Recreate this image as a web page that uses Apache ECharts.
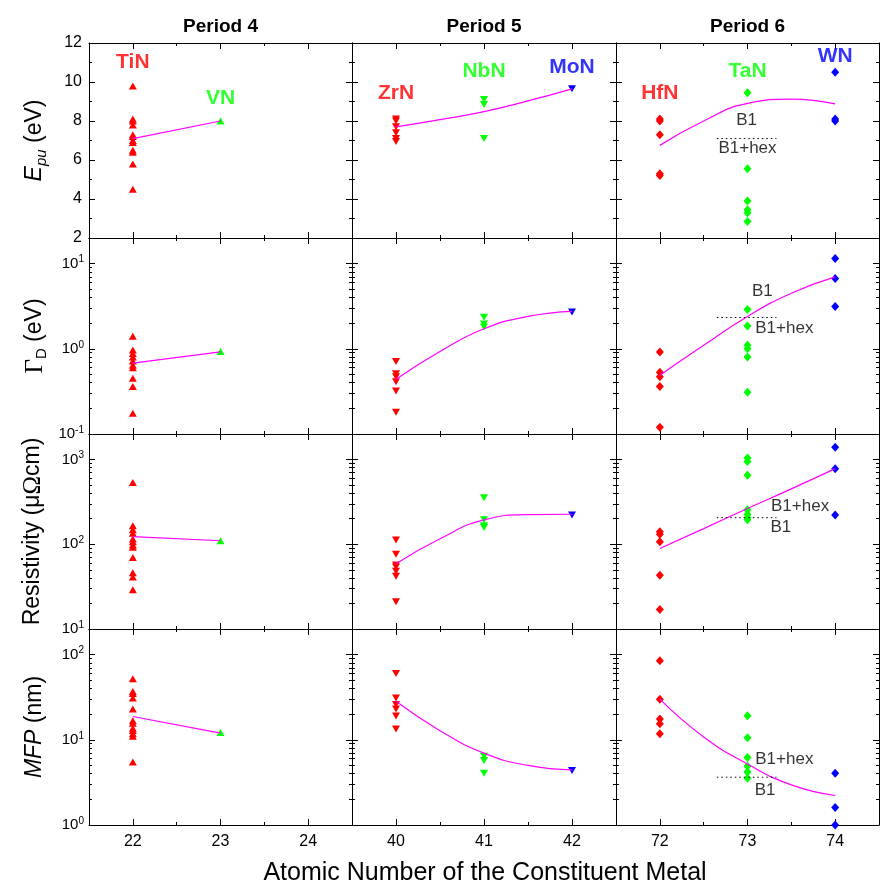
<!DOCTYPE html>
<html><head><meta charset="utf-8">
<script src="https://cdn.jsdelivr.net/npm/echarts@6/dist/echarts.min.js"></script>
<style>html,body{margin:0;padding:0;background:#fff}#c{width:885px;height:893px}</style>
</head><body><div id="c"></div>
<script>
// ---------------- data ----------------
const periodTitles = ['Period 4', 'Period 5', 'Period 6'];
const xAxisTitle = 'Atomic Number of the Constituent Metal';
const xRanges = [[21.5, 24.5], [39.5, 42.5], [71.5, 74.5]];
const xMajorTicks = [[22, 23, 24], [40, 41, 42], [72, 73, 74]];

const metals = ['TiN', 'VN', 'ZrN', 'NbN', 'MoN', 'HfN', 'TaN', 'WN'];
const metalAtomicNumber = [22, 23, 40, 41, 42, 72, 73, 74];
const metalPeriod = [0, 0, 1, 1, 1, 2, 2, 2];

const epuValues = [
  [9.8, 8.1, 8.0, 7.8, 7.3, 7.2, 7.0, 6.9, 6.5, 6.4, 5.8, 4.5],
  [8.0],
  [8.1, 8.0, 7.7, 7.4, 7.1, 6.95],
  [9.1, 8.85, 7.1],
  [9.65],
  [8.1, 8.0, 7.3, 5.3, 5.2],
  [9.45, 5.55, 3.9, 3.45, 3.3, 2.85],
  [10.5, 8.1, 8.0]
];
const gammaValues = [
  [1.4, 0.97, 0.88, 0.8, 0.72, 0.64, 0.6, 0.45, 0.36, 0.175],
  [0.93],
  [0.71, 0.51, 0.47, 0.41, 0.32, 0.18],
  [2.35, 1.95, 1.8],
  [2.7],
  [0.92, 0.53, 0.47, 0.36, 0.12],
  [2.9, 1.85, 1.1, 1.0, 0.8, 0.31],
  [11.5, 6.7, 3.15]
];
const rhoValues = [
  [535, 165, 148, 135, 115, 107, 98, 92, 70, 46, 41, 29],
  [110],
  [112, 76, 57, 54, 48, 42, 21],
  [355, 195, 165, 158],
  [222],
  [140, 131, 107, 43, 17],
  [1040, 950, 650, 255, 225, 205, 195],
  [1400, 780, 222]
];
const mfpValues = [
  [52, 37, 35, 31, 23, 16.7, 15.7, 13.7, 12.9, 11.8, 11, 5.5],
  [12.2],
  [60, 31, 26, 23, 19, 13.4],
  [6.4, 5.7, 4.05],
  [4.35],
  [85, 30, 17.5, 15.4, 11.8],
  [19.2, 10.6, 6.2, 4.9, 4.2, 3.55],
  [4.05, 1.6, 1.0]
];

const fitX = [[22, 23], [40, 40.5, 41, 41.5, 42], [72, 72.5, 73, 73.5, 74]];
const epuFit = [[7.1, 8.0], [7.7, 8.07, 8.48, 9.03, 9.65], [6.75, 8.0, 8.9, 9.12, 8.88]];
const gammaFit = [[0.68, 0.92], [0.44, 0.93, 1.72, 2.4, 2.75], [0.49, 1.1, 2.4, 4.5, 7.0]];
const rhoFit = [[123, 110], [59, 116, 194, 224, 226], [89, 153, 264, 450, 780]];
const mfpFit = [[18.8, 12.0], [28.3, 12.8, 6.97, 5.0, 4.44], [30, 10.8, 5.2, 2.96, 2.22]];

const boundaryX = [72.65, 73.33];
const boundaryValue = [7.1, 2.33, 206, 3.64];
const phaseLabels = [['B1', 'B1+hex'], ['B1', 'B1+hex'], ['B1+hex', 'B1'], ['B1+hex', 'B1']];

const yLinearTicks = [2, 12, 2]; // min, max, step for E_pu
const yLogRanges = [[0.1, 20], [10, 2000], [1, 200]];

// ---------------- layout / style ----------------
const FONT = '"Liberation Sans", Arial, sans-serif';
const SERIF = '"Liberation Serif", "Times New Roman", serif';
const metalColor = ['#ff0000', '#00ff00', '#ff0000', '#00ff00', '#0000ff', '#ff0000', '#00ff00', '#0000ff'];
const periodSymbol = ['triangle', 'triangle', 'diamond'];
const periodRotate = [0, 180, 0];
const periodSymbolSize = [[8, 7], [8, 7], [8, 9]];
const metalLabelY = [11.04, 9.16, 9.45, 10.53, 10.78, 9.42, 10.53, 11.3];
const phaseLabelPos = [
  [[72.99, 8.02], [73.0, 6.62]],
  [[73.17, 4.72], [73.42, 1.72]],
  [[73.6, 284], [73.38, 159]],
  [[73.42, 5.97], [73.2, 2.58]]
];
const colLeft = [89, 352, 616], colWidth = [263, 264, 263];
const rowTop = [43, 238, 434, 629], rowHeight = [195, 196, 195, 196];

const rowValues = [epuValues, gammaValues, rhoValues, mfpValues];
const rowFits = [epuFit, gammaFit, rhoFit, mfpFit];
const rowNames = [
  '{ei|E}{sub|pu}{n| (eV)}',
  '{g|Γ}{subr|D}{n| (eV)}',
  '{n|Resistivity (μ}{g|Ω}{n|cm)}',
  '{ei|MFP}{n| (nm)}'
];
const nameRich = {
  ei: {fontSize: 23, fontStyle: 'italic', fontFamily: FONT, color: '#000', lineHeight: 28},
  sub: {fontSize: 15, fontStyle: 'italic', fontFamily: FONT, color: '#000', lineHeight: 16, verticalAlign: 'bottom'},
  subr: {fontSize: 15, fontFamily: FONT, color: '#000', lineHeight: 16, verticalAlign: 'bottom'},
  n: {fontSize: 23, fontFamily: FONT, color: '#000', lineHeight: 28},
  g: {fontSize: 25, fontFamily: SERIF, color: '#000', lineHeight: 28}
};
const logLabelRich = {
  b: {fontSize: 15, fontFamily: FONT, color: '#000', lineHeight: 18},
  s: {fontSize: 10, fontFamily: FONT, color: '#000', lineHeight: 10, verticalAlign: 'top'}
};
function logFormatter(v) {
  const e = Math.log10(v), r = Math.round(e);
  if (Math.abs(e - r) > 1e-6) return '';
  return '{b|10}{s|' + r + '}';
}

const grids = [], xAxes = [], yAxes = [], series = [];
const lineBlack = {color: '#000', width: 1};

for (let r = 0; r < 4; r++) {
  for (let c = 0; c < 3; c++) {
    const g = r * 3 + c;
    grids.push({left: colLeft[c], top: rowTop[r], width: colWidth[c], height: rowHeight[r],
      containLabel: false, outerBoundsMode: 'none'});
    const xr = xRanges[c];
    ['bottom', 'top'].forEach(pos => {
      xAxes.push({gridIndex: g, type: 'value', position: pos, min: xr[0], max: xr[1], interval: 0.5,
        axisLine: {show: true, onZero: false, lineStyle: lineBlack},
        axisTick: {show: true, inside: true, length: 3, lineStyle: lineBlack},
        axisLabel: {show: pos === 'bottom' && r === 3, margin: 9, fontSize: 16, color: '#000', fontFamily: FONT,
          formatter: v => (Math.abs(v - Math.round(v)) < 1e-9 ? String(Math.round(v)) : '')},
        splitLine: {show: false}});
      xAxes.push({gridIndex: g, type: 'value', position: pos, min: xr[0], max: xr[1],
        axisLine: {show: false},
        axisTick: {show: true, inside: true, length: 6, lineStyle: lineBlack, customValues: xMajorTicks[c]},
        axisLabel: {show: false},
        splitLine: {show: false}});
    });
    ['left', 'right'].forEach(pos => {
      const showLabel = pos === 'left' && c === 0;
      const base = {gridIndex: g, position: pos,
        axisLine: {show: true, onZero: false, lineStyle: lineBlack},
        axisTick: {show: true, inside: true, length: 6, lineStyle: lineBlack},
        splitLine: {show: false}, minorSplitLine: {show: false}};
      if (showLabel) {
        base.name = rowNames[r];
        base.nameLocation = 'middle';
        base.nameGap = r === 2 ? 42 : 40;
        base.nameRotate = 90;
        base.nameTextStyle = {rich: nameRich};
      }
      if (r === 0) {
        Object.assign(base, {type: 'value', min: yLinearTicks[0], max: yLinearTicks[1], interval: yLinearTicks[2],
          minorTick: {show: true, splitNumber: 2, length: 3, lineStyle: lineBlack},
          axisLabel: {show: showLabel, margin: 7, fontSize: 16, color: '#000', fontFamily: FONT}});
      } else {
        const lr = yLogRanges[r - 1];
        Object.assign(base, {type: 'log', logBase: 10, min: lr[0], max: lr[1],
          minorTick: {show: true, splitNumber: 9, length: 3, lineStyle: lineBlack},
          axisLabel: {show: showLabel, margin: 5, formatter: logFormatter, rich: logLabelRich}});
      }
      yAxes.push(base);
    });

    const xi = g * 4, yi = g * 2;
    // scatter markers
    metals.forEach((m, k) => {
      if (metalPeriod[k] !== c) return;
      series.push({type: 'scatter', name: m + r, xAxisIndex: xi, yAxisIndex: yi,
        symbol: periodSymbol[c], symbolRotate: periodRotate[c], symbolSize: periodSymbolSize[c],
        itemStyle: {color: metalColor[k], opacity: 1},
        data: rowValues[r][k].map(v => [metalAtomicNumber[k], v]), z: 3, silent: true});
    });
    // fit curve
    series.push({type: 'line', xAxisIndex: xi, yAxisIndex: yi, symbol: 'none',
      smooth: c === 0 ? false : 0.5,
      lineStyle: {color: '#ff00ff', width: 1.2},
      data: fitX[c].map((x, i) => [x, rowFits[r][c][i]]), z: 4, silent: true});
    if (c === 2) {
      series.push({type: 'line', xAxisIndex: xi, yAxisIndex: yi, symbol: 'none',
        lineStyle: {color: '#000', width: 1, type: [1.5, 3]},
        data: boundaryX.map(x => [x, boundaryValue[r]]), z: 4, silent: true});
      series.push({type: 'scatter', xAxisIndex: xi, yAxisIndex: yi, symbolSize: 1,
        itemStyle: {color: 'rgba(0,0,0,0)'}, silent: true, z: 5,
        label: {show: true, position: 'inside', color: '#000', fontSize: 17, fontFamily: FONT},
        data: phaseLabels[r].map((t, i) => ({value: phaseLabelPos[r][i], label: {formatter: t}}))});
    }
    if (r === 0) {
      const labs = [];
      metals.forEach((m, k) => {
        if (metalPeriod[k] !== c) return;
        labs.push({value: [metalAtomicNumber[k], metalLabelY[k]],
          label: {formatter: m, color: metalColor[k]}});
      });
      series.push({type: 'scatter', xAxisIndex: xi, yAxisIndex: yi, symbolSize: 1,
        itemStyle: {color: 'rgba(0,0,0,0)'}, silent: true, z: 5,
        label: {show: true, position: 'inside', fontSize: 21, fontWeight: 'bold', fontFamily: FONT},
        data: labs});
    }
  }
}

const graphics = periodTitles.map((t, c) => ({type: 'text', x: colLeft[c] + colWidth[c] / 2, y: 27,
  style: {text: t, fontSize: 19, fontWeight: 'bold', fontFamily: FONT, fill: '#000', align: 'center', verticalAlign: 'middle'}}));
graphics.push({type: 'text', x: 485, y: 873,
  style: {text: xAxisTitle, fontSize: 25, fontFamily: FONT, fill: '#000', align: 'center', verticalAlign: 'middle'}});

const chart = echarts.init(document.getElementById('c'));
chart.setOption({
  animation: false,
  backgroundColor: '#fff',
  textStyle: {fontFamily: FONT},
  grid: grids, xAxis: xAxes, yAxis: yAxes, series: series, graphic: graphics
});
</script></body></html>
